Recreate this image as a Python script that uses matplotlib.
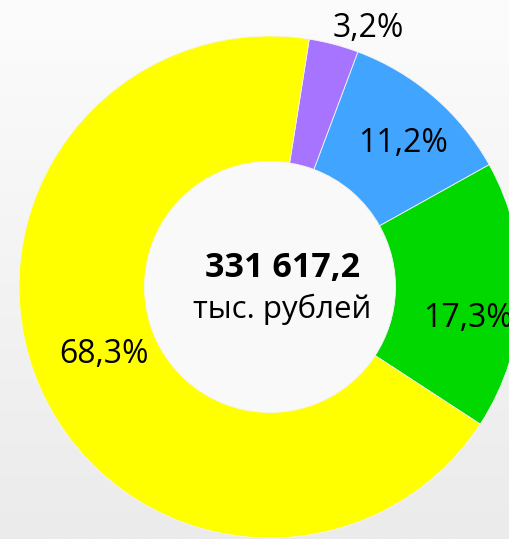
import numpy as np
import matplotlib
matplotlib.use("Agg")
import matplotlib.pyplot as plt

plt.rcParams['font.family'] = ['Open Sans', 'DejaVu Sans']

# Data
shares = [3.2, 11.2, 17.3, 68.3]
labels = ["3,2%", "11,2%", "17,3%", "68,3%"]
colors = ["#A674FF", "#41A5FF", "#00D800", "#FFFF00"]
total_text = "331 617,2"
unit_text = "тыс. рублей"

# label placement (radius, angle shift in degrees) - tuned by eye
label_r = [1.10, 0.78, 0.80, 0.715]
label_shift = [-6, -2, -7, -2]

W, H = 510, 539
cx, cy, R = 270, 287, 251

fig = plt.figure(figsize=(W / 100, H / 100), dpi=100)

# light grey vertical gradient background
bg = fig.add_axes([0, 0, 1, 1])
grad = np.linspace(0, 1, 256).reshape(-1, 1)
bg.imshow(grad, aspect='auto', cmap=matplotlib.colors.LinearSegmentedColormap.from_list(
    'bg', ['#fcfcfc', '#ebebeb']), extent=[0, 1, 0, 1], origin='upper')
bg.axis('off')

ax = fig.add_axes([0, 0, 1, 1])
ax.patch.set_alpha(0)
wedges, _ = ax.pie(shares, colors=colors, startangle=81, counterclock=False,
                   radius=1, wedgeprops=dict(width=0.5, edgecolor='#f4f4f4', linewidth=0.6))

# inner hole gets a near-white fill like the original
ax.add_patch(plt.Circle((0, 0), 0.5, color='#f9f9f9', zorder=0.5))

for w, lab, r, sh in zip(wedges, labels, label_r, label_shift):
    mid = np.deg2rad((w.theta1 + w.theta2) / 2 + sh)
    ax.text(r * np.cos(mid), r * np.sin(mid), lab, ha='center', va='center',
            fontsize=23, color='black')

ax.text(13 / R, 0.075, total_text, ha='center', va='center', fontsize=24.5,
        fontweight='bold', color='black')
ax.text(12 / R, -0.09, unit_text, ha='center', va='center', fontsize=22.5,
        color='black')

ax.set_xlim(-cx / R, (W - cx) / R)
ax.set_ylim(-(H - cy) / R, cy / R)
ax.set_aspect('auto')
ax.axis('off')

fig.savefig("out.png", dpi=100)
